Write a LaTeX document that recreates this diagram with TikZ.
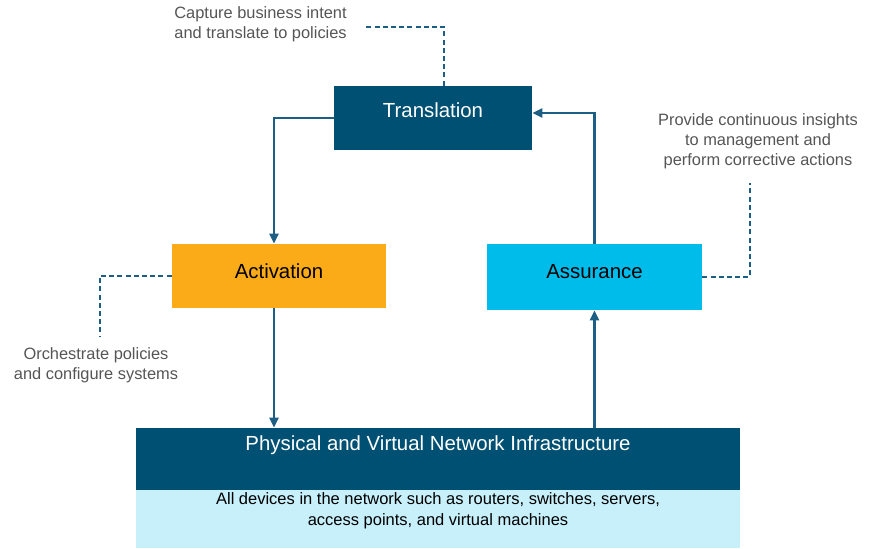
\documentclass[tikz,border=0pt]{standalone}
\usepackage{fontspec}
\setmainfont{Liberation Sans}
\usetikzlibrary{arrows.meta}

\definecolor{darkblue}{RGB}{0,80,115}
\definecolor{linkblue}{RGB}{28,94,132}
\definecolor{actorange}{RGB}{251,171,24}
\definecolor{assurcyan}{RGB}{0,188,235}
\definecolor{paleblue}{RGB}{199,240,251}
\definecolor{notegray}{RGB}{85,85,85}

\begin{document}
\begin{tikzpicture}[x=0.5pt,y=-0.5pt,
    box/.style={rectangle, inner xsep=0pt, inner ysep=0pt, font=\fontsize{10.2}{12}\selectfont},
    flow/.style={draw=linkblue, line width=1.25pt, -{Triangle[length=5pt,width=4.5pt]}},
    hint/.style={draw=linkblue, line width=1.2pt, dash pattern=on 2.5pt off 1.6pt},
    note/.style={text=notegray, inner sep=1pt, font=\fontsize{8.2}{10.1}\selectfont}]
  \useasboundingbox (0,0) rectangle (869,549);

  % The four blocks
  \node[box, fill=darkblue, text=white, minimum width=99pt, minimum height=32pt,
        text height=15.65pt, text depth=16.35pt] (trans) at (433,118) {Translation};
  \node[box, fill=actorange, minimum width=107pt, minimum height=32pt,
        text height=17.15pt, text depth=14.85pt] (activ) at (279,276) {Activation};
  \node[box, fill=assurcyan, minimum width=107.5pt, minimum height=33pt,
        text height=17.15pt, text depth=15.85pt] (assur) at (594.5,277) {Assurance};
  \node[box, fill=darkblue, text=white, minimum width=302pt, minimum height=31pt,
        text height=11.15pt, text depth=19.85pt] (infra) at (438,459) {Physical and Virtual Network Infrastructure};
  \node[box, fill=paleblue, align=center, minimum width=302pt, minimum height=29pt,
        text height=17.95pt, text depth=11.05pt, font=\fontsize{8.25}{10.5}\selectfont] (devices) at (438,519)
        {All devices in the network such as routers, switches, servers,\\access points, and virtual machines};

  % Notes
  \node[note, align=left, anchor=west] (capture) at (172,24) {Capture business intent\\and translate to policies};
  \node[note, align=center] (insight) at (758,141) {Provide continuous insights\\to management and\\perform corrective actions};
  \node[note, align=center] (orchestrate) at (96,365) {Orchestrate policies\\and configure systems};

  % Loop between the blocks
  \draw[flow] (trans.west) -| ([xshift=-2.5pt]activ.north);
  \draw[flow] ([xshift=-2.5pt]activ.south) -- ([xshift=-2.5pt]activ.south |- infra.north);
  \draw[flow] (infra.north -| assur.south) -- (assur.south);
  \draw[flow] (assur.north) |- ([yshift=2.5pt]trans.east);

  % Dashed leaders to the notes
  \draw[hint] ([xshift=5.5pt]trans.north) |- ([xshift=8pt,yshift=-1.5pt]capture.east);
  \draw[hint] (assur.east) -| ([xshift=-4pt,yshift=-6pt]insight.south);
  \draw[hint] (activ.west) -| ([xshift=2pt,yshift=4pt]orchestrate.north);
\end{tikzpicture}
\end{document}
